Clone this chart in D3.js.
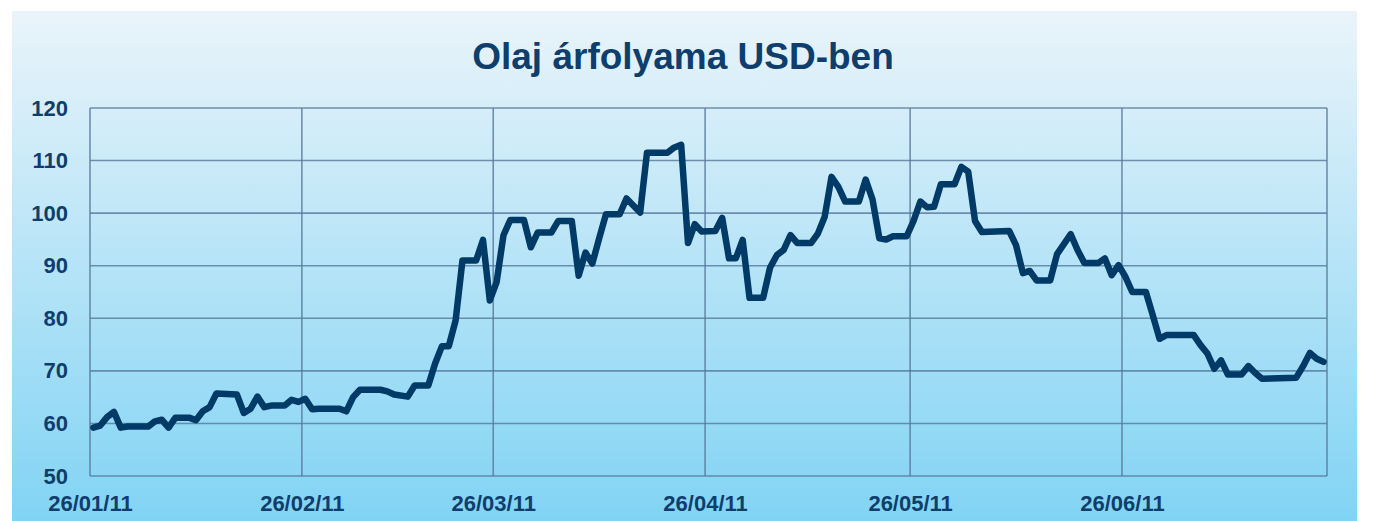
<!DOCTYPE html>
<html>
<head>
<meta charset="utf-8">
<script src="https://cdn.jsdelivr.net/npm/d3@7"></script>
<style>
  html, body { margin: 0; padding: 0; background: #fff; }
  svg { display: block; font-family: "Liberation Sans", Arial, sans-serif; }
</style>
</head>
<body>
<svg id="chart" width="1374" height="521"></svg>
<script>
// napi olajár (USD), leolvasva
const dates = [
  "2011-01-26", "2011-01-27", "2011-01-28", "2011-01-29", "2011-01-30", "2011-01-31",
  "2011-02-03", "2011-02-04", "2011-02-05", "2011-02-06", "2011-02-07", "2011-02-09",
  "2011-02-10", "2011-02-11", "2011-02-12", "2011-02-13", "2011-02-16", "2011-02-17",
  "2011-02-18", "2011-02-19", "2011-02-20", "2011-02-21", "2011-02-23", "2011-02-24",
  "2011-02-25", "2011-02-26", "2011-02-27", "2011-02-28", "2011-03-03", "2011-03-04",
  "2011-03-05", "2011-03-06", "2011-03-09", "2011-03-10", "2011-03-11", "2011-03-13",
  "2011-03-14", "2011-03-16", "2011-03-17", "2011-03-18", "2011-03-19", "2011-03-20",
  "2011-03-21", "2011-03-23", "2011-03-24", "2011-03-25", "2011-03-26", "2011-03-27",
  "2011-03-28", "2011-03-30", "2011-03-31", "2011-04-01", "2011-04-03", "2011-04-04",
  "2011-04-06", "2011-04-07", "2011-04-08", "2011-04-09", "2011-04-10", "2011-04-11",
  "2011-04-13", "2011-04-14", "2011-04-16", "2011-04-17", "2011-04-20", "2011-04-21",
  "2011-04-22", "2011-04-23", "2011-04-24", "2011-04-25", "2011-04-27", "2011-04-28",
  "2011-04-29", "2011-04-30", "2011-05-01", "2011-05-02", "2011-05-04", "2011-05-05",
  "2011-05-06", "2011-05-07", "2011-05-08", "2011-05-09", "2011-05-11", "2011-05-12",
  "2011-05-13", "2011-05-14", "2011-05-15", "2011-05-16", "2011-05-18", "2011-05-19",
  "2011-05-20", "2011-05-21", "2011-05-22", "2011-05-23", "2011-05-25", "2011-05-26",
  "2011-05-27", "2011-05-28", "2011-05-29", "2011-05-30", "2011-06-01", "2011-06-02",
  "2011-06-03", "2011-06-04", "2011-06-05", "2011-06-09", "2011-06-10", "2011-06-11",
  "2011-06-12", "2011-06-13", "2011-06-15", "2011-06-16", "2011-06-18", "2011-06-19",
  "2011-06-20", "2011-06-22", "2011-06-23", "2011-06-24", "2011-06-25", "2011-06-26",
  "2011-06-27", "2011-06-29", "2011-06-30", "2011-07-01", "2011-07-02", "2011-07-06",
  "2011-07-07", "2011-07-08", "2011-07-09", "2011-07-10", "2011-07-11", "2011-07-13",
  "2011-07-14", "2011-07-15", "2011-07-16", "2011-07-21", "2011-07-22", "2011-07-23",
  "2011-07-24", "2011-07-25"
];
const prices = [
  59.2, 59.6, 61.2, 62.2, 59.2, 59.4,
  59.4, 60.4, 60.7, 59.2, 61.1, 61.1,
  60.6, 62.3, 63.1, 65.7, 65.5, 62.0,
  62.8, 65.1, 63.1, 63.4, 63.4, 64.5,
  64.1, 64.7, 62.7, 62.8, 62.8, 62.3,
  65.0, 66.4, 66.4, 66.1, 65.5, 65.1,
  67.2, 67.2, 71.4, 74.7, 74.7, 79.6,
  91.0, 91.0, 94.9, 83.4, 86.9, 95.8,
  98.7, 98.7, 93.5, 96.3, 96.3, 98.5,
  98.5, 88.1, 92.5, 90.4, 95.2, 99.8,
  99.8, 102.8, 100.1, 111.5, 111.5, 112.5,
  113.0, 94.3, 97.9, 96.5, 96.6, 99.1,
  91.4, 91.4, 94.9, 83.9, 83.9, 89.6,
  92.0, 93.0, 95.8, 94.3, 94.3, 96.1,
  99.3, 106.9, 105.0, 102.2, 102.2, 106.4,
  102.6, 95.2, 95.0, 95.6, 95.6, 98.5,
  102.2, 101.1, 101.2, 105.5, 105.5, 108.8,
  107.9, 98.5, 96.4, 96.6, 93.9, 88.6,
  89.0, 87.2, 87.2, 92.2, 96.0, 93.0,
  90.5, 90.5, 91.4, 88.2, 90.1, 87.9,
  85.0, 85.0, 80.6, 76.1, 76.8, 76.8,
  74.9, 73.3, 70.4, 72.0, 69.3, 69.3,
  70.9, 69.6, 68.5, 68.7, 70.9, 73.4,
  72.3, 71.7
];
const xTicks = ["2011-01-26", "2011-02-26", "2011-03-26", "2011-04-26", "2011-05-26", "2011-06-26", "2011-07-26"];
const xLabels = ["26/01/11", "26/02/11", "26/03/11", "26/04/11", "26/05/11", "26/06/11", ""];
const yTicks = [50, 60, 70, 80, 90, 100, 110, 120];
const title = "Olaj árfolyama USD-ben";

const parse = d3.timeParse("%Y-%m-%d");
const data = dates.map((d, i) => ({ date: parse(d), value: prices[i] }));

const svg = d3.select("#chart");
const W = 1374, H = 521;
const m = { left: 90, right: 47, top: 108, bottom: 45 };
const cW = W - m.left - m.right, cH = H - m.top - m.bottom;
const textColor = "#0f3e6c";

// háttér
const defs = svg.append("defs");
const grad = defs.append("linearGradient")
  .attr("id", "bg").attr("x1", 0).attr("y1", 0).attr("x2", 0).attr("y2", 1);
grad.append("stop").attr("offset", "0%").attr("stop-color", "#eaf4fa");
grad.append("stop").attr("offset", "100%").attr("stop-color", "#7dd2f4");
svg.append("rect")
  .attr("x", 12).attr("y", 11).attr("width", 1345).attr("height", 530)
  .attr("fill", "url(#bg)");

svg.append("text")
  .attr("x", 683).attr("y", 69)
  .attr("text-anchor", "middle")
  .attr("font-size", 37).attr("font-weight", "bold")
  .attr("fill", textColor)
  .text(title);

const x = d3.scaleTime()
  .domain([parse(xTicks[0]), parse(xTicks[xTicks.length - 1])])
  .range([0, cW]);
const y = d3.scaleLinear().domain([50, 120]).range([cH, 0]);

const g = svg.append("g").attr("transform", `translate(${m.left},${m.top})`);

// rács
const gridColor = "#55789a";
g.append("g")
  .selectAll("line")
  .data(yTicks)
  .join("line")
  .attr("x1", 0).attr("x2", cW)
  .attr("y1", d => y(d)).attr("y2", d => y(d))
  .attr("stroke", gridColor).attr("stroke-width", 1.6).attr("stroke-opacity", 0.8);
g.append("g")
  .selectAll("line")
  .data(xTicks.map(parse))
  .join("line")
  .attr("x1", d => x(d)).attr("x2", d => x(d))
  .attr("y1", 0).attr("y2", cH)
  .attr("stroke", gridColor).attr("stroke-width", 1.6).attr("stroke-opacity", 0.8);

// tengelyfeliratok
const yAxis = g.append("g")
  .call(d3.axisLeft(y).tickValues(yTicks).tickSize(0).tickPadding(22));
yAxis.select(".domain").remove();
yAxis.selectAll("text")
  .attr("font-family", "Liberation Sans, Arial, sans-serif")
  .attr("font-size", 22).attr("font-weight", "bold").attr("fill", textColor);

const xAxis = g.append("g")
  .attr("transform", `translate(0,${cH})`)
  .call(d3.axisBottom(x).tickValues(xTicks.map(parse)).tickSize(0).tickPadding(19)
    .tickFormat((d, i) => xLabels[i]));
xAxis.select(".domain").remove();
xAxis.selectAll("text")
  .attr("font-family", "Liberation Sans, Arial, sans-serif")
  .attr("font-size", 22).attr("font-weight", "bold").attr("fill", textColor);

// a pontok a nap közepére kerülnek
const line = d3.line()
  .x(d => x(d3.timeHour.offset(d.date, 12)))
  .y(d => y(d.value));
g.append("path")
  .datum(data)
  .attr("d", line)
  .attr("fill", "none")
  .attr("stroke", "#003a66")
  .attr("stroke-width", 6.5)
  .attr("stroke-linejoin", "round")
  .attr("stroke-linecap", "round");
</script>
</body>
</html>
